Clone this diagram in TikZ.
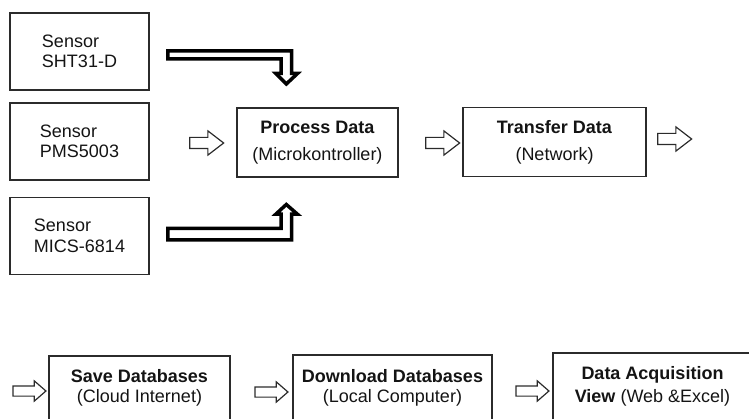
\documentclass[tikz,border=0pt]{standalone}
\usepackage{fontspec}
\setmainfont{Liberation Sans}
\usetikzlibrary{shapes.arrows}
\definecolor{garis}{HTML}{2B2B2B}
\definecolor{tulisan}{HTML}{141414}
\begin{document}
\begin{tikzpicture}[x=1pt,y=-1pt,
      every node/.style={align=center, text=tulisan, font=\fontsize{18}{27}\selectfont},
      sbox/.style={draw=garis, line width=1.3pt, minimum width=139pt, minimum height=77pt,
                   align=left, font=\fontsize{18}{20.5}\selectfont},
      pbox/.style={draw=garis, line width=1.3pt, minimum width=#1, minimum height=69pt},
      dbox/.style={draw=garis, line width=1.3pt, minimum width=#1, minimum height=65pt,
                   font=\fontsize{18}{20.5}\selectfont},
      harrow/.style={single arrow, draw=garis, line width=1.2pt, inner xsep=0pt, inner ysep=5pt,
                     minimum height=34pt, single arrow head extend=6.5pt,
                     single arrow tip angle=75, single arrow head indent=0pt},
      lowarrow/.style={minimum height=33pt, inner ysep=4.5pt, single arrow head extend=5pt,
                       single arrow tip angle=82},
      fatarrow/.style={draw=black, line width=3.5pt, fill=white}]
    \useasboundingbox (0,0) rectangle (749,419);
    \clip (0,0) rectangle (749,419);
    \node[sbox] (s1) at (79.5,51.5)  {Sensor\\SHT31-D};
    \node[sbox] (s2) at (79.5,141.5) {Sensor\\PMS5003};
    \node[sbox] (s3) at (79.5,236)   {Sensor\\MICS-6814};
    \node[pbox=161pt] (proc)  at (317.5,142.5) {\textbf{Process Data}\\(Microkontroller)};
    \node[pbox=183pt] (trans) at (554.5,142)   {\textbf{Transfer Data}\\(Network)};
    \node[dbox=181pt, minimum height=64pt] (save) at (139.5,388) {\textbf{Save Databases}\\(Cloud Internet)};
    \node[dbox=199pt, minimum height=66pt] (down) at (392.5,388) {\textbf{Download Databases}\\(Local Computer)};
    \node[dbox=199pt, minimum height=67pt, font=\fontsize{18}{23}\selectfont] (acq) at (652.5,386.5)
         {\textbf{Data Acquisition}\\\textbf{View} (Web \&Excel)};
    \node[harrow] (r1) at (203,143) {};
    \node[harrow] (r2) at (439,143) {};
    \node[harrow] (r3) at (671,139) {};
    \node[harrow, lowarrow] (r4) at (26.5,391) {};
    \node[harrow, lowarrow] (r5) at (268.5,392) {};
    \node[harrow, lowarrow] (r6) at (529.5,391) {};
    \draw[fatarrow] (167.75,51) -- (291.6,51) -- (291.6,73.5) -- (297.5,73.5) -- (286.3,84)
                    -- (275.75,73.5) -- (281,73.5) -- (281,59) -- (167.75,59) -- cycle;
    \draw[fatarrow] (167.75,240) -- (291.6,240) -- (291.6,214.25) -- (297.5,214.25) -- (286.3,204.5)
                    -- (275.75,214.25) -- (281,214.25) -- (281,228.5) -- (167.75,228.5) -- cycle;
  \end{tikzpicture}
\end{document}
